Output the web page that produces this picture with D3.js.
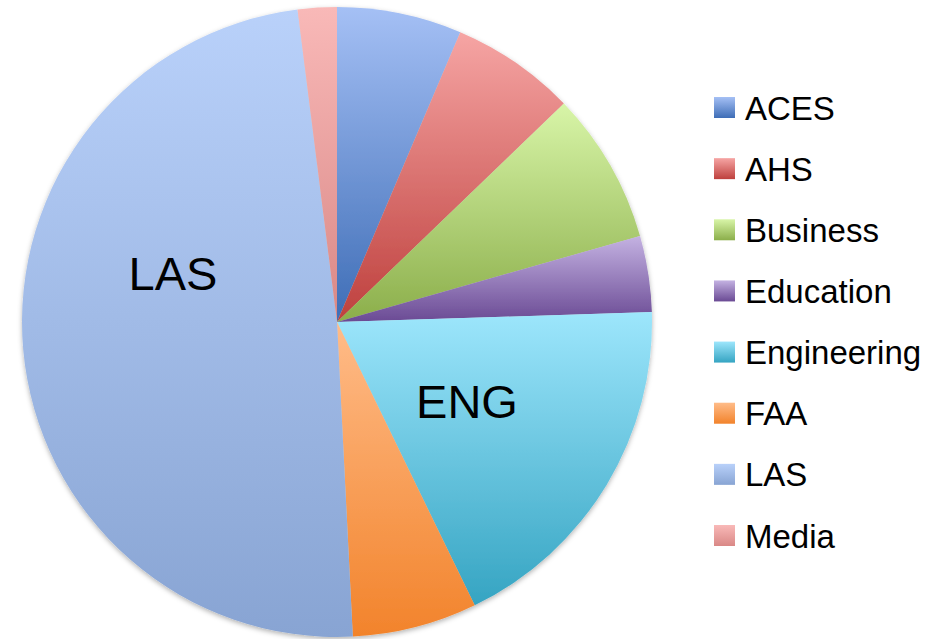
<!DOCTYPE html>
<html>
<head>
<meta charset="utf-8">
<script src="https://cdn.jsdelivr.net/npm/d3@7"></script>
<style>
  body { margin: 0; background: #fff; }
  svg { display: block; }
</style>
</head>
<body>
<svg width="933" height="639"></svg>
<script>
// colleges and their share of the pie (percent)
const categories = ["ACES", "AHS", "Business", "Education", "Engineering", "FAA", "LAS", "Media"];
const values = [6.4, 6.4, 7.8, 3.9, 18.3, 6.4, 48.8, 2.0];
// light (top) / dark (bottom) gradient stops per slice
const topColors = ["#a5c0f5", "#f6a5a4", "#d8f5a8", "#c4b2e2", "#9de6fc", "#ffbc89", "#b9d1fa", "#f9b9b8"];
const bottomColors = ["#3e6db6", "#be403d", "#8bae4a", "#6a4a94", "#35a4c2", "#f2832b", "#88a4d3", "#d98886"];
// slices that get a big label inside
const sliceLabels = [
    { name: "LAS", x: 173, y: 273 },
    { name: "ENG", x: 467, y: 401 }
];

const svg = d3.select("svg"),
    cx = 337,
    cy = 322,
    radius = 315;

const defs = svg.append("defs");

defs.append("filter")
    .attr("id", "shadow")
    .attr("x", "-10%").attr("y", "-10%")
    .attr("width", "120%").attr("height", "120%")
    .append("feDropShadow")
    .attr("dx", 0)
    .attr("dy", 2)
    .attr("stdDeviation", 2.5)
    .attr("flood-color", "#000")
    .attr("flood-opacity", 0.3);

categories.forEach(function(c, i) {
    const g = defs.append("linearGradient")
        .attr("id", "grad" + i)
        .attr("x1", 0).attr("y1", 0)
        .attr("x2", 0).attr("y2", 1);
    g.append("stop").attr("offset", "0%").attr("stop-color", topColors[i]);
    g.append("stop").attr("offset", "100%").attr("stop-color", bottomColors[i]);
});

const pie = d3.pie().sort(null).value(function(d) { return d; });
const arc = d3.arc().innerRadius(0).outerRadius(radius);

const arcs = pie(values);

svg.append("g")
    .attr("transform", "translate(" + cx + "," + cy + ")")
    .attr("filter", "url(#shadow)")
    .selectAll("path")
    .data(arcs)
    .enter().append("path")
    .attr("d", arc)
    .attr("fill", function(d, i) { return "url(#grad" + i + ")"; });

svg.append("g")
    .selectAll("text")
    .data(sliceLabels)
    .enter().append("text")
    .attr("x", function(d) { return d.x; })
    .attr("y", function(d) { return d.y; })
    .attr("text-anchor", "middle")
    .attr("dominant-baseline", "central")
    .style("font-family", "'Liberation Sans', Arial, sans-serif")
    .style("font-size", "47px")
    .attr("fill", "#000")
    .text(function(d) { return d.name; });

// legend
const legendY = d3.scalePoint()
    .domain(categories)
    .range([108, 536]);

const legend = svg.append("g")
    .selectAll("g")
    .data(categories)
    .enter().append("g")
    .attr("transform", function(d) { return "translate(714," + legendY(d) + ")"; });

legend.append("rect")
    .attr("x", 0)
    .attr("y", -11)
    .attr("width", 21)
    .attr("height", 21)
    .attr("fill", function(d, i) { return "url(#grad" + i + ")"; });

legend.append("text")
    .attr("x", 31)
    .attr("y", 0)
    .attr("dominant-baseline", "central")
    .style("font-family", "'Liberation Sans', Arial, sans-serif")
    .style("font-size", "33px")
    .attr("fill", "#000")
    .text(function(d) { return d; });
</script>
</body>
</html>
